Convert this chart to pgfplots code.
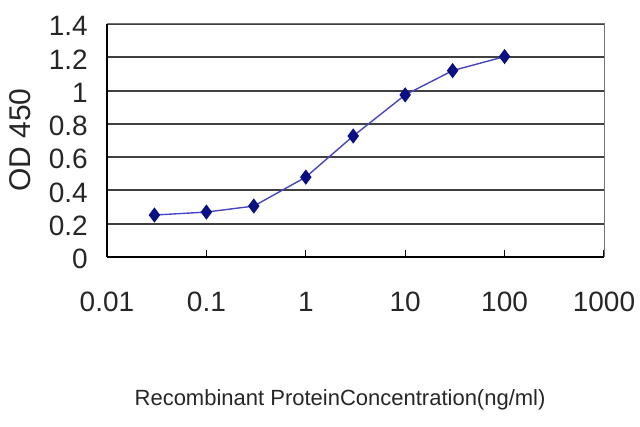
\documentclass[border=0pt]{standalone}
\usepackage{fontspec}
\setmainfont{Liberation Sans}
\usepackage{pgfplots}
\pgfplotsset{compat=1.18}
\definecolor{linecol}{RGB}{70,70,190}
\definecolor{markcol}{RGB}{10,15,130}
\begin{document}
\begin{tikzpicture}[x=1pt,y=1pt]
\useasboundingbox (-107,-170) rectangle (533,257);
\begin{axis}[
  at={(0,0)}, anchor=south west,
  scale only axis, width=497pt, height=233pt,
  xmode=log, xmin=0.01, xmax=1000,
  ymin=0, ymax=1.4,
  log basis x=10,
  xtick={0.01,0.1,1,10,100,1000},
  xticklabels={0.01,0.1,1,10,100,1000},
  ytick={0,0.2,0.4,0.6,0.8,1,1.2,1.4},
  yticklabels={0,0.2,0.4,0.6,0.8,1,1.2,1.4},
  ymajorgrids, major grid style={black!75, line width=2.1pt},
  axis line style={black, line width=1.4pt},
  x axis line style={line width=1.6pt},
  axis y line*=left, axis x line*=bottom,
  xtick align=inside, ytick style={draw=none},
  xtick style={black, line width=1.2pt}, major tick length=7pt,
  minor tick num=0, xminorticks=false,
  tick label style={font=\fontsize{28}{30}\selectfont, text=black!85, inner sep=0pt},
  xticklabel style={anchor=center, yshift=-45pt},
  yticklabel style={anchor=east, xshift=-19pt, yshift=-2pt},
  xlabel={Recombinant ProteinConcentration(ng/ml)},
  xlabel style={font=\fontsize{22}{24}\selectfont, text=black!85,
    at={(axis description cs:0.469,-0.614)}, anchor=center},
  ylabel={OD 450},
  ylabel style={font=\fontsize{30}{32}\selectfont, text=black!85,
    at={(axis description cs:-0.175,0.502)}, anchor=center, rotate=0},
  clip=false,
]
\addplot[linecol, line width=1.4pt, mark=diamond*, mark size=6.5pt,
  mark options={fill=markcol, draw=markcol}]
  coordinates {(0.03,0.252) (0.1,0.27) (0.3,0.306) (1,0.48) (3,0.727)
               (10,0.974) (30,1.12) (100,1.204)};
\end{axis}
\draw[black!55, line width=1pt] (0,233) -- (497,233) -- (497,0);
\end{tikzpicture}
\end{document}
